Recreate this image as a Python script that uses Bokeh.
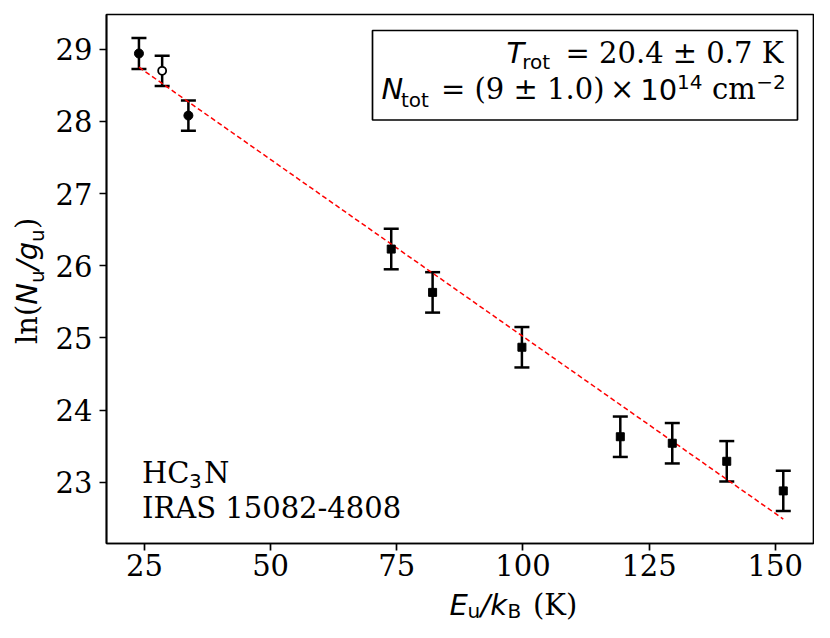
import math
from bokeh.plotting import figure
from bokeh.layouts import row, column
from bokeh.models import (ColumnDataSource, Whisker, TeeHead, Label, BoxAnnotation,
                          FixedTicker, Range1d)
from bokeh.embed import file_html
from bokeh.resources import INLINE

# ---------------- data ----------------
e_filled = [23.9, 33.7]
ln_filled = [28.94, 28.08]
err_filled = [0.215, 0.21]

e_open = [28.5]
ln_open = [28.70]
err_open = [0.21]

e_square = [73.9, 82.1, 99.8, 119.3, 129.6, 140.4, 151.6]
ln_square = [26.23, 25.63, 24.87, 23.63, 23.54, 23.29, 22.88]
err_square = [0.28, 0.28, 0.28, 0.28, 0.28, 0.28, 0.28]

fit_e = [23.9, 151.6]
fit_ln = [28.75, 22.49]

x_ticks = [25, 50, 75, 100, 125, 150]
y_ticks = [23, 24, 25, 26, 27, 28, 29]

# ---------------- layout geometry (page pixels) ----------------
YLAB_W = 52          # strip for the y-axis title
MAIN_W, MAIN_H = 762, 588
XLAB_H = 34
FRAME_LEFT, FRAME_TOP, FRAME_BOTTOM = 106, 14, 543

SERIF, SANS = "DejaVu Serif", "DejaVu Sans"
BIG, SMALL = 29, 20
MID = 0.346  # baseline -> text middle, in em

# ---------------- main figure ----------------
p = figure(width=MAIN_W, height=MAIN_H, output_backend="svg", toolbar_location=None,
           x_range=Range1d(17.47, 157.59), y_range=Range1d(22.151, 29.48),
           min_border_left=FRAME_LEFT - YLAB_W, min_border_right=1,
           min_border_top=FRAME_TOP, min_border_bottom=MAIN_H - FRAME_BOTTOM)
p.grid.visible = False
p.outline_line_color = "black"
p.outline_line_width = 1.7
p.background_fill_color = "white"
p.border_fill_color = "white"

p.xaxis.ticker = FixedTicker(ticks=x_ticks)
p.yaxis.ticker = FixedTicker(ticks=y_ticks)
for ax in (p.xaxis, p.yaxis):
    ax.axis_line_color = "black"
    ax.axis_line_width = 1.7
    ax.major_tick_line_color = "black"
    ax.major_tick_line_width = 1.7
    ax.major_tick_out = 7
    ax.major_tick_in = 0
    ax.minor_tick_out = 0
    ax.minor_tick_in = 0
    ax.major_label_text_font = SERIF
    ax.major_label_text_font_size = f"{BIG}px"
    ax.major_label_text_color = "black"
p.xaxis.major_label_standoff = 3
p.yaxis.major_label_standoff = 7


def add_err(xs, ys, es):
    src = ColumnDataSource(dict(base=xs,
                                upper=[y + e for y, e in zip(ys, es)],
                                lower=[y - e for y, e in zip(ys, es)]))
    p.add_layout(Whisker(source=src, base="base", upper="upper", lower="lower",
                         dimension="height", line_color="black", line_width=2.5,
                         upper_head=TeeHead(size=15, line_color="black", line_width=2.5),
                         lower_head=TeeHead(size=15, line_color="black", line_width=2.5)))


add_err(e_filled, ln_filled, err_filled)
add_err(e_open, ln_open, err_open)
add_err(e_square, ln_square, err_square)

p.line(fit_e, fit_ln, line_color="#ff0000", line_width=1.5, line_dash="5 3")
p.scatter(e_filled, ln_filled, marker="circle", size=9, fill_color="black",
          line_color="black")
p.scatter(e_open, ln_open, marker="circle", size=8, fill_color="white",
          line_color="black", line_width=1.8)
p.scatter(e_square, ln_square, marker="square", size=8, fill_color="black",
          line_color="black")


def make_lab(fig, left, bottom):
    # X, Y: glyph origin on the text baseline, in page pixels
    def lab(text, X, Y, font, size, style="normal", align="left", rotated=False):
        if rotated:
            X -= MID * size
            angle = math.pi / 2
        else:
            Y -= MID * size
            angle = 0.0
        fig.add_layout(Label(x=X - left, y=bottom - Y, x_units="screen", y_units="screen",
                             text=text, text_font=font, text_font_size=f"{size}px",
                             text_font_style=style, text_align=align,
                             text_baseline="middle", angle=angle,
                             text_color="black"))
    return lab


lab = make_lab(p, FRAME_LEFT, FRAME_BOTTOM)

# box with fit results
p.add_layout(BoxAnnotation(left=372 - FRAME_LEFT, right=797 - FRAME_LEFT,
                           top=FRAME_BOTTOM - 30, bottom=FRAME_BOTTOM - 119.5,
                           left_units="screen", right_units="screen",
                           top_units="screen", bottom_units="screen",
                           fill_color="white", fill_alpha=1.0,
                           line_color="black", line_width=1.7, line_alpha=1.0))
lab("T", 506, 62.5, SANS, BIG, "italic")
lab("rot", 521.7, 68.5, SANS, SMALL)
lab("= 20.4 \u00b1 0.7 K", 565, 62.5, SERIF, BIG)
lab("N", 381, 99, SANS, BIG, "italic")
lab("tot", 400.5, 106.5, SANS, SMALL)
lab("= (9 \u00b1 1.0)", 440.5, 99, SERIF, BIG)
lab("\u00d7", 609.5, 99, SERIF, BIG)
lab("10", 639.7, 99, SANS, BIG)
lab("14", 676.6, 88.5, SANS, SMALL)
lab("cm", 711.6, 99, SERIF, BIG)
lab("\u22122", 755.8, 88.5, SANS, SMALL)

# molecule / source
lab("HC", 141.5, 482.3, SERIF, BIG)
lab("3", 188.6, 487, SANS, SMALL)
lab("N", 203.5, 482.3, SERIF, BIG)
lab("IRAS 15082-4808", 141.5, 517.3, SERIF, BIG)

# ---------------- y-axis title strip ----------------
def blank(w, h):
    f = figure(width=w, height=h, output_backend="svg", toolbar_location=None,
               x_range=Range1d(0, 1), y_range=Range1d(0, 1),
               x_axis_type=None, y_axis_type=None, min_border=0)
    f.outline_line_color = None
    f.grid.visible = False
    f.background_fill_color = "white"
    f.border_fill_color = "white"
    return f


py = blank(YLAB_W, MAIN_H)
laby = make_lab(py, 0, MAIN_H)
laby("ln(", 36.7, 343.5, SERIF, BIG, rotated=True)
laby("N", 36.7, 304.2, SANS, BIG, "italic", rotated=True)
laby("u", 43.2, 282.5, SANS, SMALL, rotated=True)
laby("/g", 36.7, 269.6, SANS, BIG, "italic", rotated=True)
laby("u", 43.2, 241.4, SANS, SMALL, rotated=True)
laby(")", 36.7, 228.5, SERIF, BIG, rotated=True)

# ---------------- x-axis title strip ----------------
px = blank(MAIN_W, XLAB_H)
labx = make_lab(px, YLAB_W, MAIN_H + XLAB_H)
labx("E", 395, 615, SANS, BIG, "italic")
labx("u", 413, 617.3, SANS, SMALL)
labx("/k", 426, 615, SANS, BIG, "italic")
labx("B", 453, 617.3, SANS, SMALL)
labx("(K)", 478.5, 615, SERIF, BIG)

layout = row(py, column(p, px, spacing=0), spacing=0)
open("out.html", "w").write(file_html(layout, INLINE))
